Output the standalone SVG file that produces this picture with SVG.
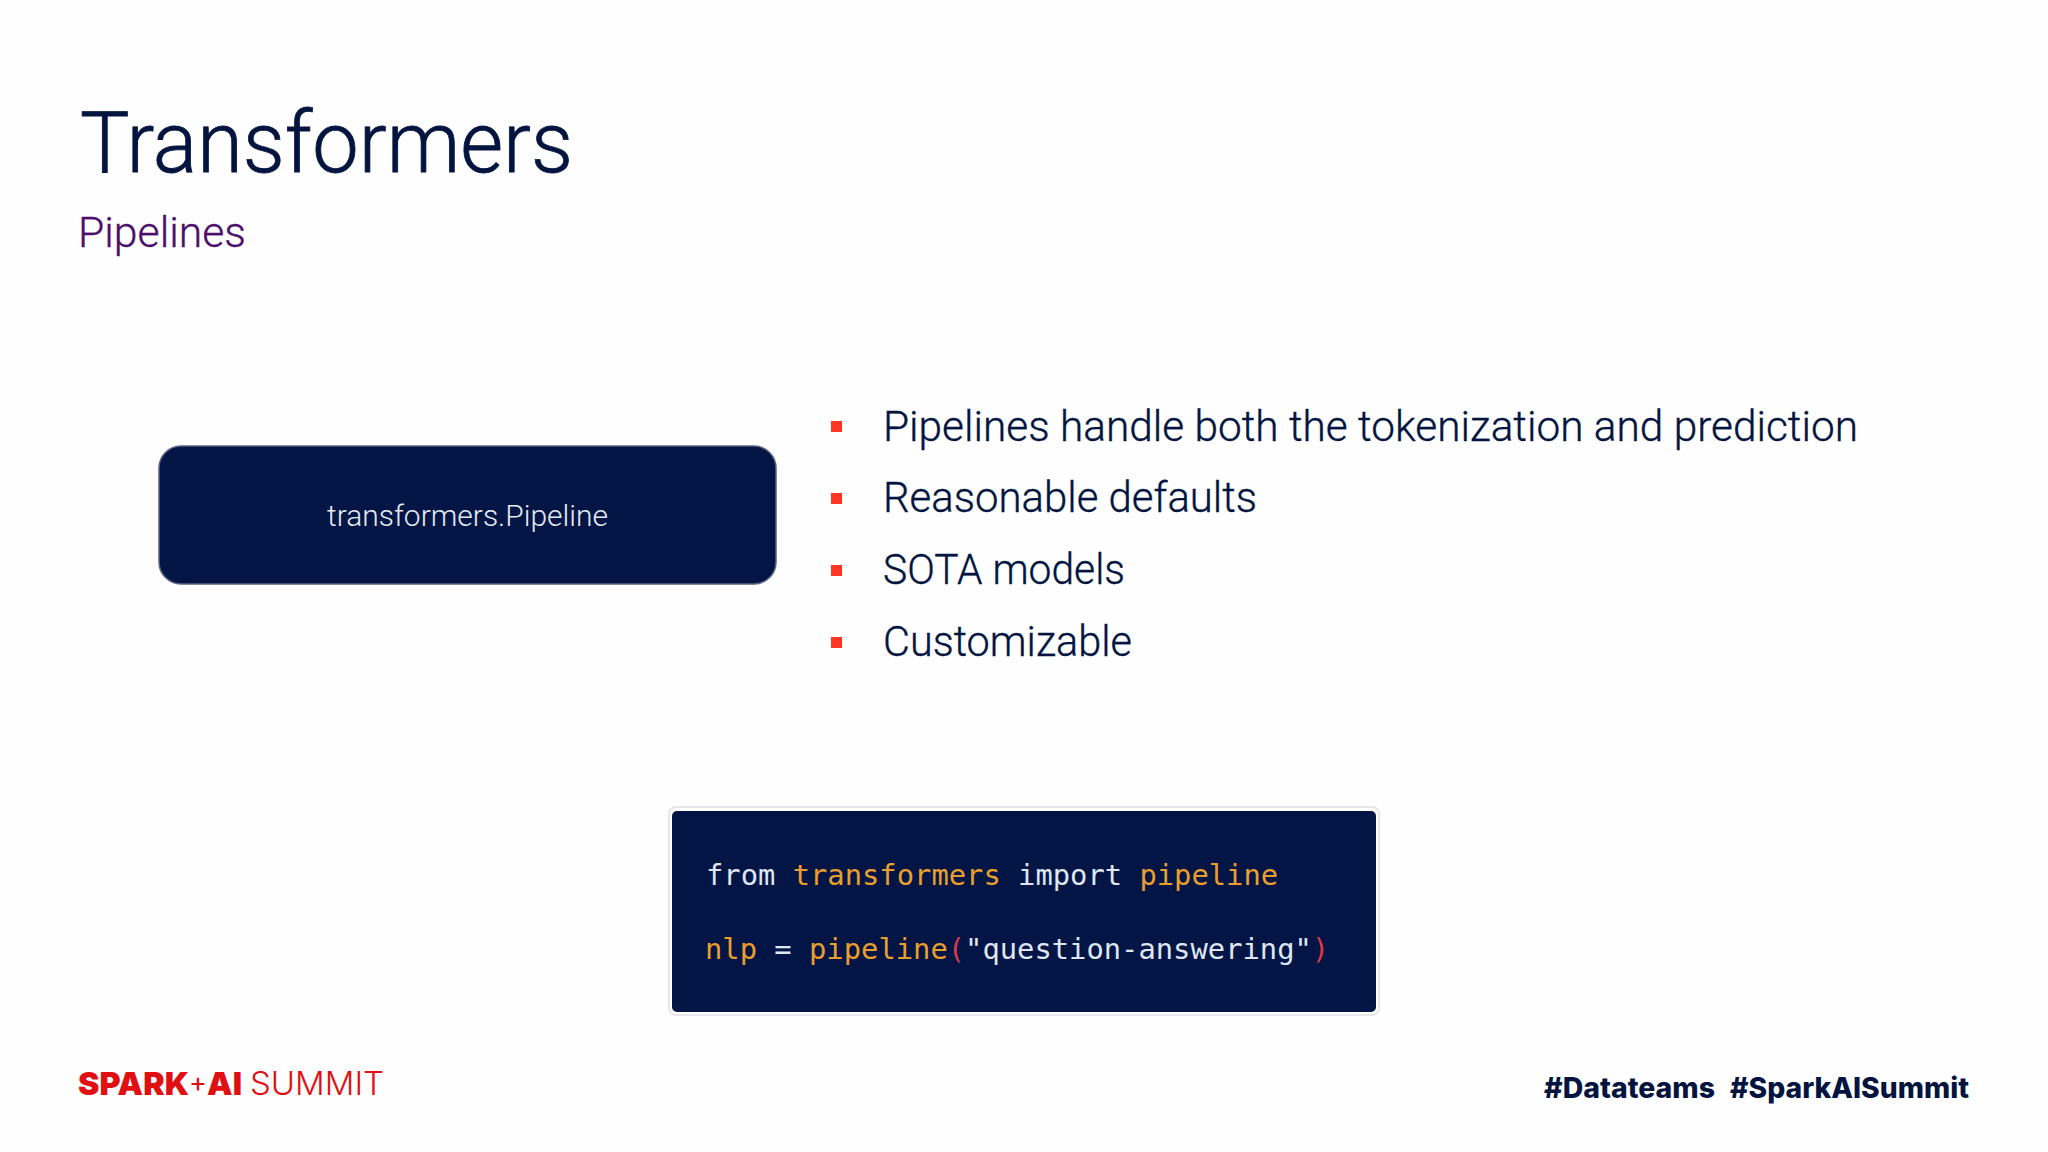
<svg xmlns="http://www.w3.org/2000/svg" width="2048" height="1152" viewBox="0 0 2048 1152">
<style>
.t{font-family:"Roboto","Liberation Sans",sans-serif;fill:#03143f}
.b{font-size:42px;font-weight:300;stroke:#03143f;stroke-width:.35}
.sq{fill:#ff3621}
.m{font-family:"DejaVu Sans Mono","Liberation Mono",monospace;font-size:28.8px;fill:#dfe6f2}
.o{fill:#e89f2e}
.r{fill:#d8394a}
.lg{font-family:"Inter","Liberation Sans",sans-serif;fill:#e00f12}
.h{font-family:"Inter","Liberation Sans",sans-serif;font-weight:800;font-size:28px;fill:#03143f}
</style>
<rect width="2048" height="1152" fill="#fefefe"/>
<g id="title">
<text class="t" x="80" y="172" font-size="86" font-weight="300" stroke="#03143f" stroke-width="0.8" textLength="493" lengthAdjust="spacingAndGlyphs">Transformers</text>
<text class="t" x="78" y="247" font-size="42" font-weight="300" style="fill:#4b0f6b" stroke="#4b0f6b" stroke-width="0.3" textLength="168" lengthAdjust="spacingAndGlyphs">Pipelines</text>
</g>
<g id="pipeline-node">
<rect x="159" y="446" width="617" height="138" rx="22" fill="#021545" stroke="#5a6480" stroke-width="1.5"/>
<text class="t" x="327" y="526" font-size="29" font-weight="300" style="fill:#e4e9f2" textLength="281" lengthAdjust="spacingAndGlyphs">transformers.Pipeline</text>
</g>
<g id="bullets">
<rect class="sq" x="831" y="421" width="11" height="11"/>
<rect class="sq" x="831" y="493" width="11" height="11"/>
<rect class="sq" x="831" y="565" width="11" height="11"/>
<rect class="sq" x="831" y="637" width="11" height="11"/>
<text class="t b" x="883" y="441" textLength="975" lengthAdjust="spacingAndGlyphs">Pipelines handle both the tokenization and prediction</text>
<text class="t b" x="883" y="512" textLength="374" lengthAdjust="spacingAndGlyphs">Reasonable defaults</text>
<text class="t b" x="883" y="584" textLength="242" lengthAdjust="spacingAndGlyphs">SOTA models</text>
<text class="t b" x="883" y="656" textLength="249" lengthAdjust="spacingAndGlyphs">Customizable</text>
</g>
<g id="code-node">
<rect x="669" y="807" width="710" height="208" rx="7" fill="#fff" stroke="#e6e6ec" stroke-width="2"/>
<rect x="672" y="811" width="704" height="201" rx="5" fill="#021545"/>
<text class="m" x="706" y="885" xml:space="preserve">from <tspan class="o">transformers</tspan> import <tspan class="o">pipeline</tspan></text>
<text class="m" x="705" y="959" xml:space="preserve"><tspan class="o">nlp</tspan> = <tspan class="o">pipeline</tspan><tspan class="r">(</tspan>"question-answering"<tspan class="r">)</tspan></text>
</g>
<g id="logo">
<text class="lg" x="78" y="1095" font-size="32" font-weight="900" textLength="164" lengthAdjust="spacingAndGlyphs">SPARK<tspan font-weight="400" font-size="27" dy="-3">+</tspan><tspan dy="3">AI</tspan></text>
<text class="lg" x="250" y="1095" font-size="32" font-weight="300" textLength="134" lengthAdjust="spacingAndGlyphs">SUMMIT</text>
</g>
<g id="hashtags">
<text class="h" x="1544" y="1098" textLength="171" lengthAdjust="spacingAndGlyphs">#Datateams</text>
<text class="h" x="1730" y="1098" textLength="239" lengthAdjust="spacingAndGlyphs">#SparkAISummit</text>
</g>
</svg>
